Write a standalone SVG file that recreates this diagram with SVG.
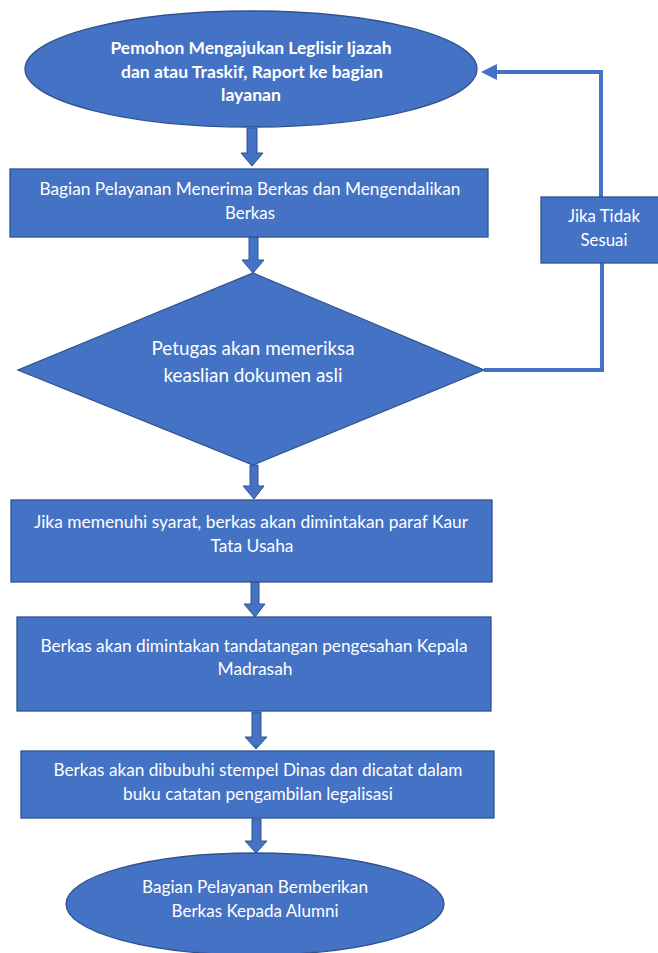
<svg xmlns="http://www.w3.org/2000/svg" width="658" height="953" viewBox="0 0 658 953">
<defs>
<style>
.shape{fill:#4472C4;stroke:#2F528F;stroke-width:1.3}
.arrow{fill:#4472C4;stroke:#2F528F;stroke-width:1}
.line{fill:none;stroke:#4472C4;stroke-width:4;stroke-linejoin:miter}
.t{font-family:Lato,"Open Sans","Liberation Sans",sans-serif;font-size:17px;fill:#ffffff;text-anchor:middle}
.b{font-weight:bold}
.d{font-size:19px}
</style>
</defs>
<rect width="658" height="953" fill="#ffffff"/>
<g id="connectors">
<polygon class="arrow" points="247,128 257,128 257,153 263,153 252,166 241,153 247,153"/>
<polygon class="arrow" points="249,237 258,237 258,260 264,260 253,273 242,260 249,260"/>
<polygon class="arrow" points="250,465 258,465 258,486 264,486 254,499 243,486 250,486"/>
<polygon class="arrow" points="251,582 259,582 259,604 265,604 255,617 244,604 251,604"/>
<polygon class="arrow" points="252,712 261,712 261,737 267,737 256,749 245,737 252,737"/>
<polygon class="arrow" points="252,819 261,819 261,841 267,841 256,853 245,841 252,841"/>
<polyline class="line" points="484,370 602,370 602,263"/>
<polyline class="line" points="601,197 601,72 494,72"/>
<polygon fill="#4472C4" points="481,72 497,64 497,80"/>
</g>
<g id="start">
<ellipse class="shape" cx="251" cy="69" rx="226" ry="58"/>
<text class="t b" x="251" y="54" textLength="281" lengthAdjust="spacingAndGlyphs">Pemohon Mengajukan Leglisir Ijazah</text>
<text class="t b" x="252" y="78" textLength="262" lengthAdjust="spacingAndGlyphs">dan atau Traskif, Raport ke bagian</text>
<text class="t b" x="251" y="101" textLength="60" lengthAdjust="spacingAndGlyphs">layanan</text>
</g>
<g id="terima">
<rect class="shape" x="10" y="169" width="478" height="68"/>
<text class="t" x="250" y="195" textLength="421" lengthAdjust="spacingAndGlyphs">Bagian Pelayanan Menerima Berkas dan Mengendalikan</text>
<text class="t" x="250" y="219" textLength="50" lengthAdjust="spacingAndGlyphs">Berkas</text>
</g>
<g id="periksa">
<polygon class="shape" points="253,273 484,370 253,465 18,370"/>
<text class="t d" x="253" y="355" textLength="203" lengthAdjust="spacingAndGlyphs">Petugas akan memeriksa</text>
<text class="t d" x="253" y="382" textLength="179" lengthAdjust="spacingAndGlyphs">keaslian dokumen asli</text>
</g>
<g id="tidak-sesuai">
<rect class="shape" x="541" y="197" width="120" height="66"/>
<text class="t" x="604" y="222" textLength="72" lengthAdjust="spacingAndGlyphs">Jika Tidak</text>
<text class="t" x="604" y="246" textLength="47" lengthAdjust="spacingAndGlyphs">Sesuai</text>
</g>
<g id="paraf">
<rect class="shape" x="11" y="500" width="481" height="82"/>
<text class="t" x="251" y="528" textLength="434" lengthAdjust="spacingAndGlyphs">Jika memenuhi syarat, berkas akan dimintakan paraf Kaur</text>
<text class="t" x="252" y="552" textLength="83" lengthAdjust="spacingAndGlyphs">Tata Usaha</text>
</g>
<g id="tandatangan">
<rect class="shape" x="17" y="617" width="474" height="94"/>
<text class="t" x="254" y="652" textLength="427" lengthAdjust="spacingAndGlyphs">Berkas akan dimintakan tandatangan pengesahan Kepala</text>
<text class="t" x="255" y="675" textLength="75" lengthAdjust="spacingAndGlyphs">Madrasah</text>
</g>
<g id="stempel">
<rect class="shape" x="21" y="751" width="473" height="67"/>
<text class="t" x="258" y="776" textLength="409" lengthAdjust="spacingAndGlyphs">Berkas akan dibubuhi stempel Dinas dan dicatat dalam</text>
<text class="t" x="258" y="800" textLength="270" lengthAdjust="spacingAndGlyphs">buku catatan pengambilan legalisasi</text>
</g>
<g id="selesai">
<ellipse class="shape" cx="255" cy="904" rx="189" ry="51"/>
<text class="t" x="255" y="893" textLength="226" lengthAdjust="spacingAndGlyphs">Bagian Pelayanan Bemberikan</text>
<text class="t" x="255" y="917" textLength="167" lengthAdjust="spacingAndGlyphs">Berkas Kepada Alumni</text>
</g>
</svg>
